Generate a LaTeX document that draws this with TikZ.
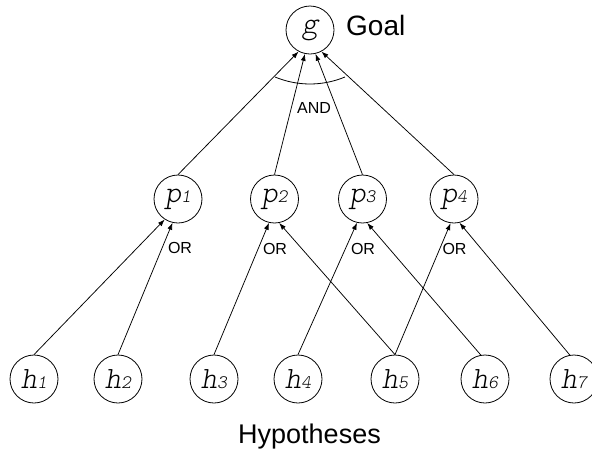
\documentclass[tikz,border=0pt]{standalone}
\usepackage{fontspec}
\setmainfont{Liberation Sans}
\newfontfamily\courfam{lmmonolt10-oblique.otf}
\usetikzlibrary{arrows.meta}
\newcommand{\vlab}[2]{{\courfam\fontsize{31}{31}\selectfont #1\fontsize{19}{19}\selectfont #2}}
\tikzset{
  state/.style={circle,draw,line width=0.8pt,minimum size=48pt,inner sep=0pt},
  edge/.style={-{Latex[length=7pt,width=5pt]},line width=0.75pt},
  smalllab/.style={font=\fontsize{16}{16}\selectfont,inner sep=0pt},
  biglab/.style={font=\fontsize{28}{28}\selectfont,inner sep=0pt}
}
\begin{document}
\begin{tikzpicture}[x=1pt,y=-1pt]
\useasboundingbox (0,0) rectangle (592,456);
\node[state] (g) at (310,30) {\vlab{g}{}};
\node[biglab,anchor=base west] (goal) at (346,35) {Goal};
\node[state] (p1) at (178,199) {\vlab{p}{1}};
\node[state] (p2) at (274.5,199) {\vlab{p}{2}};
\node[state] (p3) at (362.5,199) {\vlab{p}{3}};
\node[state] (p4) at (454,199) {\vlab{p}{4}};
\node[state] (h1) at (34,379) {\vlab{h}{1}};
\node[state] (h2) at (118,379) {\vlab{h}{2}};
\node[state] (h3) at (214,379) {\vlab{h}{3}};
\node[state] (h4) at (298,379) {\vlab{h}{4}};
\node[state] (h5) at (395,379) {\vlab{h}{5}};
\node[state] (h6) at (485,379) {\vlab{h}{6}};
\node[state] (h7) at (574,379) {\vlab{h}{7}};
\node[font=\fontsize{27}{27}\selectfont,inner sep=0pt,anchor=base] (hyp) at (309.5,443) {Hypotheses};
\draw[edge] (p1.north) -- (g.242);
\draw[edge] (p2.north) -- (g.258);
\draw[edge] (p3.north) -- (g.283);
\draw[edge] (p4.north) -- (g.298);
\draw[line width=0.8pt] (275,77) arc[start angle=112.6,end angle=67.4,radius=91];
\node[smalllab] (and) at (314,107.5) {AND};
\draw[edge] (h1.north) -- (p1.237);
\draw[edge] (h2.north) -- (p1.257);
\draw[edge] (h3.north) -- (p2.257);
\draw[edge] (h5.north) -- (p2.281);
\draw[edge] (h4.north) -- (p3.257);
\draw[edge] (h6.100) -- (p3.281);
\draw[edge] (h5.north) -- (p4.262);
\draw[edge] (h7.100) -- (p4.283);
\node[smalllab] (or1) at (180,247.5) {OR};
\node[smalllab] (or2) at (275,248.5) {OR};
\node[smalllab] (or3) at (363,248.5) {OR};
\node[smalllab] (or4) at (454.5,248.5) {OR};
\end{tikzpicture}
\end{document}
